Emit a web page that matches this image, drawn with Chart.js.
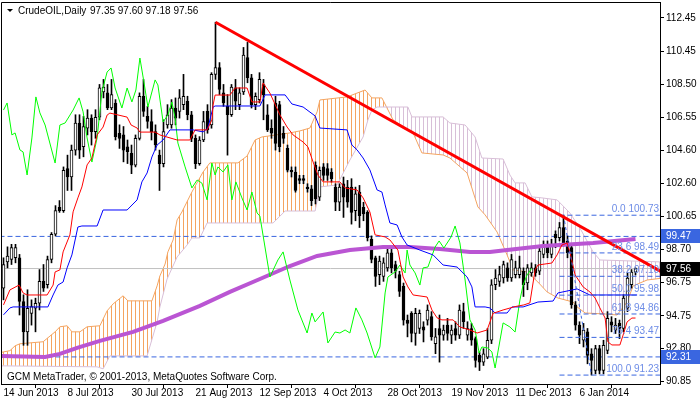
<!DOCTYPE html>
<html>
<head>
<meta charset="utf-8">
<script src="https://cdn.jsdelivr.net/npm/chart.js@4.4.0/dist/chart.umd.min.js"></script>
<style>
  html, body { margin: 0; padding: 0; background: #fff; }
  canvas { display: block; }
</style>
</head>
<body>
<canvas id="chart" width="700" height="402"></canvas>
<script>
// --- data ---
const xLabels = ['14 Jun 2013', '8 Jul 2013', '30 Jul 2013', '21 Aug 2013', '12 Sep 2013',
  '4 Oct 2013', '28 Oct 2013', '19 Nov 2013', '11 Dec 2013', '6 Jan 2014'];
const xTickIdx = [0, 16, 32, 48, 64, 80, 96, 112, 128, 144];
const yTicks = [112.45, 110.45, 108.50, 106.55, 104.60, 102.60, 100.65, 98.70, 96.75, 94.75, 92.80, 90.85];

const opens = [96.4, 97.95, 98.1, 98.2, 98.2, 95.6, 93.8, 94.9, 95.2, 95.5,
  96.8, 96.6, 98.1, 99.6, 101.2, 101.0, 103.5, 103.0, 104.6, 106.2,
  104.8, 105.9, 106.5, 105.7, 106.55, 108.05, 108.0, 107.1, 107.4, 105.6,
  105.5, 104.8, 104.4, 103.7, 105.3, 107.8, 106.6, 106.3, 105.7, 104.3,
  103.8, 106.1, 106.1, 107.1, 106.9, 107.3, 107.5, 106.7, 105.3, 103.8,
  105.2, 106.9, 106.1, 109.1, 109.5, 108.0, 107.2, 106.7, 108.3, 107.3,
  108.05, 110.1, 108.9, 107.3, 107.6, 108.5, 106.7, 105.9, 107.4, 107.3,
  105.6, 104.7, 103.4, 103.3, 102.9, 102.9, 102.4, 102.3, 103.7, 101.8,
  103.6, 103.5, 103.3, 102.4, 101.5, 102.6, 102.4, 102.4, 101.0, 102.1,
  101.2, 100.9, 99.3, 98.2, 97.2, 97.1, 97.6, 98.5, 97.8, 97.2,
  96.5, 94.5, 94.9, 93.7, 94.0, 94.1, 94.5, 94.7, 93.1, 94.0,
  93.6, 94.2, 93.6, 94.0, 93.6, 95.0, 93.6, 94.0, 93.4, 92.4,
  92.0, 92.3, 93.3, 96.6, 96.8, 97.0, 97.6, 97.0, 97.2, 97.2,
  97.4, 96.7, 97.3, 97.6, 97.4, 98.4, 98.9, 98.4, 99.6, 99.4,
  100.0, 99.2, 98.8, 95.4, 94.2, 93.3, 93.8, 92.5, 91.5, 92.8,
  91.5, 92.7, 94.4, 93.9, 94.3, 94.0, 95.2, 96.6, 97.35];
const highs = [98.2, 98.85, 99.0, 99.0, 98.4, 96.0, 96.3, 95.7, 95.8, 97.5,
  97.8, 98.3, 99.7, 101.3, 101.6, 103.6, 104.3, 104.9, 106.7, 106.7,
  106.6, 107.0, 106.7, 107.0, 108.5, 108.8, 108.5, 108.8, 107.6, 106.1,
  106.0, 105.2, 104.9, 105.5, 108.0, 108.8, 107.2, 107.0, 106.1, 104.6,
  106.4, 107.3, 107.6, 107.7, 108.2, 109.1, 107.8, 106.9, 105.5, 105.4,
  106.9, 107.3, 109.2, 112.2, 109.8, 108.5, 107.9, 108.5, 108.8, 108.3,
  110.7, 111.0, 109.1, 108.0, 109.2, 108.8, 107.3, 106.4, 107.8, 107.5,
  106.0, 104.9, 103.6, 103.6, 103.1, 103.1, 102.6, 102.5, 103.9, 103.6,
  103.8, 103.8, 103.5, 102.6, 102.6, 103.0, 102.8, 102.9, 102.4, 102.5,
  101.5, 101.0, 99.5, 98.3, 98.3, 98.2, 98.9, 98.7, 98.0, 97.4,
  96.7, 94.8, 95.0, 95.2, 95.1, 94.4, 95.4, 95.0, 94.0, 94.8,
  94.2, 94.6, 94.2, 94.4, 95.4, 95.5, 94.4, 94.3, 93.5, 92.6,
  92.8, 94.0, 96.9, 97.5, 97.7, 98.0, 97.9, 98.4, 98.0, 98.3,
  97.6, 97.8, 97.9, 97.8, 98.9, 99.2, 99.2, 99.3, 99.8, 100.3,
  100.73, 99.5, 99.0, 95.6, 94.4, 94.3, 94.0, 92.8, 93.0, 93.0,
  93.3, 95.0, 94.7, 94.6, 94.5, 96.0, 97.3, 97.5, 97.60];
const lows = [95.7, 97.6, 97.8, 97.9, 94.8, 93.0, 93.0, 94.2, 93.8, 95.1,
  96.2, 96.4, 97.9, 99.5, 100.9, 100.9, 102.2, 102.2, 104.3, 104.1,
  104.2, 105.5, 104.9, 105.3, 106.4, 107.7, 107.0, 107.0, 105.2, 104.7,
  103.9, 103.8, 103.2, 103.6, 105.2, 106.6, 105.9, 105.2, 104.6, 102.2,
  103.6, 105.9, 105.9, 106.1, 106.5, 107.0, 106.4, 105.1, 103.5, 103.7,
  105.1, 105.6, 105.9, 108.8, 107.9, 107.2, 104.3, 106.6, 107.0, 107.0,
  107.9, 108.6, 107.1, 107.0, 107.4, 106.4, 105.7, 105.3, 104.6, 104.5,
  105.0, 103.3, 103.0, 102.1, 102.6, 102.6, 102.1, 101.3, 101.4, 101.6,
  102.8, 102.8, 102.7, 101.0, 101.0, 100.6, 101.2, 100.2, 100.4, 100.0,
  100.4, 99.2, 97.9, 96.5, 96.6, 96.8, 97.4, 97.3, 97.0, 95.9,
  94.2, 93.5, 93.2, 93.0, 93.7, 93.2, 94.2, 93.3, 92.5, 92.0,
  93.3, 93.3, 93.1, 93.3, 93.4, 94.0, 93.3, 93.0, 91.7, 91.5,
  91.8, 92.2, 93.1, 96.3, 96.5, 96.7, 96.8, 96.8, 97.0, 97.0,
  95.9, 96.3, 97.1, 97.1, 97.2, 98.2, 98.2, 98.2, 98.8, 99.2,
  98.9, 98.2, 95.2, 93.9, 93.1, 92.9, 91.9, 91.23, 91.3, 91.3,
  91.3, 92.5, 93.8, 93.7, 93.4, 93.8, 95.0, 96.4, 97.18];
const closes = [97.8, 98.3, 98.8, 98.8, 95.6, 93.8, 95.2, 95.3, 95.5, 96.8,
  96.4, 98.1, 99.6, 101.0, 101.0, 103.4, 103.0, 104.6, 106.2, 104.6,
  106.0, 106.5, 105.7, 106.55, 108.3, 108.35, 107.1, 107.9, 105.4, 105.3,
  104.6, 104.5, 103.7, 105.3, 107.8, 106.9, 106.3, 105.7, 104.9, 103.8,
  105.7, 106.7, 107.1, 106.5, 107.7, 107.8, 106.7, 105.3, 103.8, 105.2,
  106.3, 105.8, 109.1, 109.5, 108.2, 107.4, 106.7, 108.35, 107.5, 108.0,
  110.25, 108.9, 107.3, 107.8, 108.8, 107.9, 105.8, 105.6, 105.0, 104.8,
  105.3, 103.4, 103.3, 102.2, 102.8, 102.8, 102.3, 101.6, 101.7, 103.4,
  103.1, 103.1, 102.9, 101.5, 102.4, 101.8, 101.5, 100.9, 102.0, 100.7,
  100.8, 99.4, 98.1, 97.1, 98.0, 97.9, 98.5, 97.6, 97.4, 96.2,
  94.5, 94.3, 93.7, 94.9, 94.9, 93.9, 95.1, 93.5, 93.5, 93.6,
  93.9, 93.7, 93.9, 93.6, 95.1, 94.4, 94.0, 93.3, 92.1, 92.0,
  92.5, 93.3, 96.6, 97.0, 97.2, 97.8, 97.0, 98.1, 97.6, 97.6,
  96.6, 97.6, 97.6, 97.3, 98.6, 98.9, 98.5, 98.9, 99.4, 100.0,
  99.1, 98.5, 95.4, 94.2, 93.6, 93.9, 92.4, 92.1, 92.8, 91.5,
  93.0, 94.6, 94.2, 94.2, 94.0, 95.8, 97.0, 97.35, 97.56];

// Ichimoku lines as [bar index, price]
const tenkan = [[0, 95.40], [1.6, 96.29], [3.9, 96.58], [4.9, 96.11], [5.9, 95.99], [10.9, 95.99],
  [12.4, 96.58], [12.9, 97.36], [14.1, 97.48], [14.9, 98.55], [16.6, 99.56], [17.4, 100.93],
  [18.6, 101.76], [19.6, 102.41], [20.9, 103.72], [22.1, 104.13], [23.4, 105.5], [24.9, 105.97],
  [25.9, 106.68], [26.6, 106.8], [30.9, 106.56], [31.9, 106.09], [33.4, 105.91], [34.1, 105.67],
  [37.9, 105.67], [39.1, 105.5], [43.4, 105.2], [46.6, 105.2], [47.9, 105.8], [50.9, 105.8],
  [52.1, 106.39], [52.4, 107.28], [52.9, 107.87], [56.6, 107.87], [57.9, 108.29], [60.9, 108.29],
  [62.1, 107.46], [64.1, 107.46], [64.9, 108.59], [66.6, 107.99], [69.1, 106.69], [70.9, 105.97],
  [72.4, 105.5], [74.9, 105.08], [76.1, 104.79], [77.4, 103.89], [78.6, 103.12], [79.9, 102.71],
  [84.1, 102.71], [85.4, 102.35], [88.4, 102.23], [89.9, 101.76], [91.6, 100.92], [92.9, 99.56],
  [95.4, 99.44], [96.6, 99.26], [98.6, 98.66], [99.9, 97.06], [101.1, 96.47], [102.4, 95.99],
  [105.9, 95.87], [107.1, 95.1], [108.4, 94.63], [109.6, 94.51], [112.4, 94.51], [114.1, 94.09],
  [116.6, 93.91], [118.4, 93.73], [120.9, 93.91], [122.4, 94.9], [124.9, 95.1], [127.9, 95.3],
  [130.1, 95.4], [131.6, 95.52], [132.9, 97.48], [133.6, 97.77], [137.1, 97.89], [138.4, 98.37],
  [139.6, 98.96], [140.9, 99.08], [141.6, 98.55], [142.9, 97.18], [144.9, 96.47], [146.6, 96.17],
  [147.9, 95.81], [149.1, 95.22], [150.4, 94.62], [151.1, 93.2], [152.1, 93.02], [154.1, 93.02],
  [154.9, 93.61], [155.9, 94.39], [157.1, 94.62], [158, 94.62]];
const kijun = [[0, 94.81], [1.6, 95.22], [2.4, 95.28], [11.1, 95.28], [12.4, 95.99], [13.6, 96.58],
  [14.9, 96.76], [15.9, 97.6], [17.1, 98.37], [18.6, 100.03], [19.6, 100.09], [23.4, 100.09],
  [24.9, 101.04], [30.9, 101.04], [33.4, 101.64], [34.6, 102.71], [35.9, 103.24], [37.1, 104.19],
  [38.4, 104.9], [39.9, 105.2], [41.6, 105.8], [47.4, 105.8], [49.9, 105.68], [51.1, 105.91],
  [52.4, 107.16], [52.9, 107.22], [64.1, 107.22], [65.4, 107.88], [70.4, 107.88], [72.1, 107.34],
  [74.9, 107.16], [77.9, 106.63], [79.1, 105.91], [85.9, 105.8], [87.1, 104.9], [88.4, 104.61],
  [89.9, 104.13], [91.6, 103.42], [93.4, 102.23], [94.6, 102.11], [95.4, 101.34], [96.6, 100.27],
  [98.4, 100.15], [99.6, 99.44], [100.9, 98.96], [104.1, 98.66], [107.4, 98.37], [109.9, 97.77],
  [113.4, 97.65], [115.9, 97.06], [117.1, 96.47], [117.9, 95.28], [120.4, 95.28], [121.6, 95.22],
  [122.9, 94.92], [125.9, 94.92], [127.1, 95.28], [129.9, 95.28], [133.6, 95.57], [137.4, 95.63],
  [138.6, 96.11], [143.4, 96.35], [146.6, 95.99], [158.4, 95.99]];
const chikou = [[0, 106.98], [0.9, 107.4], [2.1, 105.5], [2.9, 105.62], [4.1, 104.61], [4.9, 104.49],
  [5.9, 103.12], [7.1, 105.32], [8.1, 107.76], [9.1, 106.81], [10.4, 106.09], [12.9, 103.83],
  [14.1, 106.09], [15.4, 106.21], [17.4, 106.98], [18.9, 107.7], [19.9, 106.87], [20.9, 105.32],
  [22.1, 103.89], [23.4, 105.32], [24.6, 108.05], [25.9, 109.24], [26.9, 109.48], [27.9, 108.29],
  [29.6, 107.1], [30.9, 108.29], [32.1, 107.46], [33.1, 108.17], [34.1, 110.07], [35.1, 108.65],
  [36.1, 107.16], [37.9, 108.77], [38.6, 108.47], [39.9, 106.27], [41.1, 106.69], [42.1, 107.46],
  [42.9, 106.51], [43.6, 105.02], [45.4, 103.6], [47.1, 102.35], [48.4, 102.82], [49.6, 102.64],
  [50.9, 101.64], [52.1, 103.83], [52.9, 103.12], [53.6, 103.6], [54.9, 103.3], [56.1, 103.72],
  [57.1, 101.64], [58.1, 102.71], [59.6, 101.76], [60.9, 101.04], [62.1, 102.11], [63.4, 100.86],
  [64.1, 100.68], [66.6, 97.06], [68.6, 98.07], [69.9, 98.55], [71.6, 96.88], [73.6, 95.1],
  [75.9, 93.73], [77.1, 94.92], [77.9, 94.39], [79.9, 94.98], [81.1, 93.14], [82.9, 93.79],
  [84.1, 93.73], [85.4, 93.91], [86.6, 93.73], [88.1, 95.22], [89.6, 94.51], [90.9, 93.73],
  [92.9, 92.25], [94.1, 92.9], [95.4, 96.11], [96.1, 97.06], [97.9, 97.36], [99.1, 97.77],
  [100.4, 97.3], [100.9, 98.66], [101.6, 97.77], [102.9, 97.3], [104.1, 96.58], [104.9, 97.6],
  [106.1, 97.65], [107.9, 98.84], [108.9, 99.2], [110.1, 98.78], [111.9, 99.44], [112.9, 100.09],
  [114.1, 99.08], [115.4, 96.88], [116.6, 94.51], [117.9, 93.91], [118.9, 92.54], [119.6, 92.9],
  [121.1, 92.84], [122.1, 92.6], [122.9, 91.65], [123.6, 92.6], [124.9, 94.33], [126.6, 94.09],
  [127.9, 93.79], [129.1, 95.69], [129.9, 96.58], [130.9, 97.18], [132, 97.56]];
const senkouA = [[-1, 92.56], [1.6, 92.68], [2.9, 92.97], [4.1, 93.09], [9.9, 93.21], [12.9, 93.8],
  [14.1, 94.1], [15.9, 94.16], [17.1, 93.8], [19.1, 93.8], [20.9, 94.1], [24.1, 94.16],
  [25.9, 95.05], [27.4, 95.46], [29.9, 95.94], [31.1, 95.64], [37.1, 95.64], [38.4, 96.53],
  [39.1, 97.12], [40.4, 97.83], [41.1, 98.55], [42.4, 99.26], [43.4, 100.45], [44.6, 100.92],
  [47.1, 102.11], [49.9, 103.3], [51.6, 103.84], [58.6, 103.84], [60.9, 104.25], [62.9, 105.2],
  [64.6, 105.38], [71.6, 105.62], [74.1, 105.74], [76.6, 105.91], [78.4, 106.87], [79.1, 107.58],
  [85.9, 107.76], [90.4, 108.17], [92.1, 107.7], [94.6, 107.7], [97.4, 106.39], [102.4, 105.62],
  [104.6, 104.43], [109.9, 104.31], [111.6, 104.13], [115.9, 103.24], [118.6, 101.22], [120.4, 100.75],
  [123.4, 99.73], [125.9, 98.37], [127.4, 97.48], [130.9, 97.36], [133.6, 96.76], [135.9, 96.17],
  [138.6, 95.81], [142.4, 95.57], [143.4, 95.28], [145.4, 94.92], [150.4, 94.86], [153.4, 94.8],
  [155.9, 95.57], [157.4, 96.53], [160.9, 96.88], [165, 97.0]];
const senkouB = [[-1, 91.78], [23.4, 91.72], [24.9, 91.6], [26.6, 92.37], [35.9, 92.37], [38.4, 94.39],
  [39.1, 95.28], [40.9, 96.94], [43.4, 98.25], [45.9, 98.96], [47.1, 99.38], [49.1, 99.38],
  [50.9, 100.27], [67.4, 100.27], [70.4, 100.98], [77.9, 100.98], [79.1, 102.41], [83.4, 102.53],
  [86.6, 104.01], [89.9, 105.38], [91.1, 106.39], [92.1, 106.98], [93.4, 107.16], [101.1, 107.16],
  [102.1, 106.57], [109.9, 106.57], [111.6, 106.21], [115.4, 106.09], [117.9, 105.38], [119.6, 104.13],
  [124.9, 104.07], [126.6, 103.12], [127.9, 102.65], [130.4, 102.65], [132.1, 101.82], [134.6, 101.76],
  [138.4, 101.64], [139.9, 101.28], [141.6, 100.86], [144.1, 99.97], [147.4, 98.55], [149.1, 98.07],
  [165, 97.95]];
const ma = [[-1, 92.37], [10.4, 92.31], [14.1, 92.49], [18.4, 92.85], [24.1, 93.26], [32.4, 93.8],
  [39.9, 94.45], [49.1, 95.34], [56.6, 96.17], [64.1, 96.94], [71.6, 97.71], [78.4, 98.31],
  [86.6, 98.66], [94.9, 98.84], [101.6, 98.84], [109.1, 98.72], [116.6, 98.55], [121.6, 98.55],
  [125.9, 98.66], [134.9, 98.9], [147.4, 99.08], [158, 99.32]];

const trend = [[53, 112.2], [164.5, 97.37]];
const hLevels = [99.47, 92.31];
const bidPrice = 97.56;
const fibStart = 139;
const fibPct = ['0.0', '23.6', '38.2', '50.0', '61.8', '76.4', '100.0'];
const fibVals = [100.73, 98.49, 97.10, 95.98, 94.86, 93.47, 91.23];
const fibBase = [[140, 100.73], [147, 91.23]];
const symbol = 'CrudeOIL,Daily';
const quote = ['97.35', '97.60', '97.18', '97.56'];
const footer = 'GCM MetaTrader, \u00a9 2001-2013, MetaQuotes Software Corp.';

// --- chart ---
const canvas = document.getElementById('chart');
Chart.defaults.font.family = "'Liberation Sans', Arial, sans-serif";
Chart.defaults.font.size = 10;
Chart.defaults.color = '#000';

const idx = opens.map((_, i) => i);
const lineDs = (data, color, width, order, extra) => Object.assign({
  type: 'line', data, borderColor: color, borderWidth: width, pointRadius: 0,
  tension: 0, fill: false, order, clip: 0
}, extra || {});

const datasets = [
  lineDs(senkouA, '#F4A460', 1, 30),
  lineDs(senkouB, '#D8BFD8', 1, 29),
  lineDs([[-1, bidPrice], [166, bidPrice]], '#C0C0C0', 1, 28),
  ...hLevels.map(v => lineDs([[-1, v], [166, v]], '#3A66E0', 1, 27, { borderDash: [5, 3] })),
  {
    type: 'bar', data: idx.map(i => ({ x: i, y: [lows[i], highs[i]] })),
    backgroundColor: '#000', barThickness: 1, grouped: false, order: 20, borderWidth: 0
  },
  {
    type: 'bar', data: idx.map(i => ({ x: i, y: [opens[i], closes[i]] })),
    backgroundColor: idx.map(i => closes[i] >= opens[i] ? '#fff' : '#000'),
    borderColor: '#000', borderWidth: 1, borderSkipped: false,
    barThickness: 3, grouped: false, order: 19
  },
  lineDs(ma, '#BA55D3', 4, 15),
  lineDs(chikou, '#00FF00', 1, 14),
  lineDs(kijun, '#0000FF', 1, 13),
  lineDs(tenkan, '#FF0000', 1, 12),
  ...fibVals.map(v => lineDs([[fibStart, v], [166, v]], '#3A66E0', 1, 6, { borderDash: [5, 3] })),
  lineDs(fibBase, '#3A66E0', 1, 5, { borderDash: [3, 3] }),
  lineDs(trend, '#FF0000', 3, 2)
];

// kumo hatching between span A and span B, one stroke per bar
const cloud = {
  id: 'cloud',
  beforeDatasetsDraw(chart) {
    const g = chart.ctx, a = chart.chartArea, xs = chart.scales.x;
    const pa = chart.getDatasetMeta(0).data, pb = chart.getDatasetMeta(1).data;
    const trace = pts => pts.forEach((p, k) => k ? g.lineTo(p.x, p.y) : g.moveTo(p.x, p.y));
    [[a.top, '#F4A460'], [a.bottom, '#D8BFD8']].forEach(([edge, color]) => {
      g.save();
      g.beginPath();
      g.rect(a.left, a.top, a.right - a.left, a.bottom - a.top);
      g.clip();
      g.beginPath();
      trace(pa);
      for (let k = pb.length - 1; k >= 0; k--) g.lineTo(pb[k].x, pb[k].y);
      g.closePath();
      g.clip();
      g.beginPath();
      trace(pb);
      g.lineTo(pb[pb.length - 1].x, edge);
      g.lineTo(pb[0].x, edge);
      g.closePath();
      g.clip();
      g.fillStyle = color;
      for (let i = Math.ceil(xs.min); i <= xs.max; i++) {
        g.fillRect(Math.floor(xs.getPixelForValue(i)), a.top, 1, a.bottom - a.top);
      }
      g.restore();
    });
  }
};

const overlay = {
  id: 'overlay',
  afterDraw(chart) {
    const { ctx: g, chartArea: a, scales: { y } } = chart;
    g.save();
    g.strokeStyle = '#000';
    g.lineWidth = 1;
    g.beginPath();
    g.moveTo(a.left + 0.5, a.bottom);
    g.lineTo(a.left + 0.5, a.top + 0.5);
    g.lineTo(a.right, a.top + 0.5);
    g.stroke();

    g.font = "10px 'Liberation Sans', Arial, sans-serif";
    g.textBaseline = 'alphabetic';
    // fib labels
    g.fillStyle = '#6D8CE6';
    g.textAlign = 'right';
    fibVals.forEach((v, k) => {
      g.fillText(fibPct[k] + ' ' + v.toFixed(2), a.right - 1, y.getPixelForValue(v) - 3);
    });

    // price boxes on the axis
    const box = (v, bg) => {
      const py = Math.round(y.getPixelForValue(v));
      g.fillStyle = bg;
      g.fillRect(a.right + 1, py - 7, 39, 14);
      g.fillStyle = '#fff';
      g.textAlign = 'left';
      g.textBaseline = 'middle';
      g.fillText(v.toFixed(2), a.right + 6, py + 0.5);
    };
    hLevels.forEach(v => box(v, '#3A66E0'));
    box(bidPrice, '#000');

    // header
    g.fillStyle = '#000';
    g.beginPath();
    g.moveTo(7, 9); g.lineTo(13, 9); g.lineTo(10, 12); g.closePath();
    g.fill();
    g.textAlign = 'left';
    g.textBaseline = 'middle';
    g.fillText(symbol, 18, 11);
    g.fillText(quote.join(' '), 90, 11);
    // footer
    g.fillText(footer, 7, 377);
    g.restore();
  }
};

new Chart(canvas, {
  type: 'line',
  data: { datasets },
  options: {
    responsive: false,
    devicePixelRatio: 1,
    animation: false,
    events: [],
    layout: { padding: { left: 1, top: 2, right: 0, bottom: 0 } },
    plugins: { legend: { display: false }, tooltip: { enabled: false } },
    scales: {
      x: {
        type: 'linear', min: -0.625, max: 164.125, offset: false,
        afterBuildTicks: s => { s.ticks = xTickIdx.map(v => ({ value: v })); },
        afterFit: s => { s.height = 18; s.paddingLeft = 0; s.paddingRight = 0; },
        ticks: {
          autoSkip: false, maxRotation: 0, align: 'start', padding: -1,
          callback: (v, i) => xLabels[i]
        },
        grid: { drawOnChartArea: false, tickLength: 4, color: '#000' },
        border: { color: '#000' }
      },
      y: {
        type: 'linear', position: 'right', min: 90.70, max: 113.40,
        afterBuildTicks: s => { s.ticks = yTicks.map(v => ({ value: v })); },
        afterFit: s => { s.width = 40; s.paddingTop = 0; s.paddingBottom = 0; },
        ticks: { autoSkip: false, padding: 2, callback: v => v.toFixed(2) },
        grid: { drawOnChartArea: false, tickLength: 4, color: '#000' },
        border: { color: '#000' }
      }
    }
  },
  plugins: [cloud, overlay]
});
</script>
</body>
</html>
